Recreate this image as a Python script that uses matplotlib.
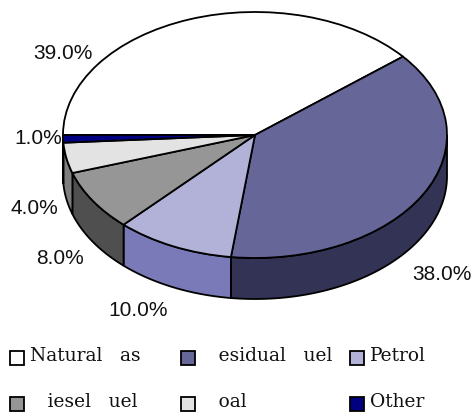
import numpy as np
import matplotlib
matplotlib.use("Agg")
import matplotlib.pyplot as plt
from matplotlib.patches import Rectangle

# shares in percent, clockwise from the left
shares = [39.0, 38.0, 10.0, 8.0, 4.0, 1.0]
top_colors = ["#ffffff", "#666699", "#b2b2d9", "#969696", "#e3e3e3", "#000080"]
side_colors = ["#ffffff", "#333355", "#7a7ab8", "#4f4f4f", "#7f7f7f", "#000040"]

# the legend text as it appears in the picture (capitals are missing there)
legend_text = ["Natural   as", "   esidual   uel", "Petrol", "   iesel   uel", "   oal", "Other"]

W, H = 472, 417
CX, CY, RX, RY, DEPTH = 255, 135, 192, 123, 41

fig = plt.figure(figsize=(W / 100, H / 100), dpi=100)

# pie axes: one data unit is the radius, so the circle gets squashed to an ellipse
ax = fig.add_axes([0, 0, 1, 1])
wedges, _ = ax.pie(shares, colors=top_colors, startangle=180, counterclock=False,
                   wedgeprops={"edgecolor": "black", "linewidth": 1.3, "zorder": 3})
ax.set_aspect("auto")
ax.set_xlim(-CX / RX, (W - CX) / RX)
ax.set_ylim(-(H - CY) / RY, CY / RY)
ax.axis("off")

# side walls, only the front half of the cake shows
depth = DEPTH / RY
angle = 180.0
for share, col in zip(shares, side_colors):
    end = angle - share * 3.6
    lo, hi = max(end, -180.0), min(angle, 0.0)
    if hi > lo:
        t = np.radians(np.linspace(hi, lo, 80))
        x = np.cos(t)
        y = np.sin(t)
        ax.fill(np.r_[x, x[::-1]], np.r_[y, y[::-1] - depth], facecolor=col,
                edgecolor="black", linewidth=1.3, zorder=2)
    angle = end

# overlay in pixel coordinates for the texts and the legend
ov = fig.add_axes([0, 0, 1, 1])
ov.set_xlim(0, W)
ov.set_ylim(H, 0)
ov.axis("off")
ov.patch.set_alpha(0)

label_pos = [(63, 53), (442, 275), (138, 311), (60, 259), (34, 208), (38, 138)]
for share, (lx, ly) in zip(shares, label_pos):
    ov.text(lx, ly, f"{share:.1f}%", ha="center", va="center", fontsize=15,
            family="Liberation Sans", color="#111111")

legend_pos = [(10, 358), (181, 358), (350, 358), (10, 404), (181, 404), (350, 404)]
for name, col, (lx, ly) in zip(legend_text, top_colors, legend_pos):
    ov.add_patch(Rectangle((lx, ly - 7), 14, 14, facecolor=col, edgecolor="black", linewidth=1.3))
    ov.text(lx + 20, ly - 2, name, ha="left", va="center", fontsize=13.4,
            family="DejaVu Serif", color="#111111")

fig.savefig("out.png", dpi=100)
